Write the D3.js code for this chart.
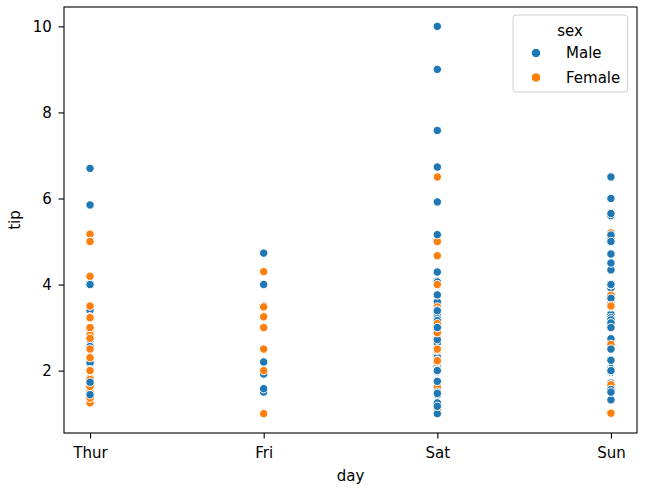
<!DOCTYPE html>
<html>
<head>
<meta charset="utf-8">
<script src="https://cdn.jsdelivr.net/npm/d3@7"></script>
<style>
  body { margin: 0; background: #fff; }
  svg text { font-family: "DejaVu Sans", sans-serif; fill: #000; }
  .axis path, .axis line { stroke: #000; stroke-width: 1.1; }
</style>
</head>
<body>
<script>
// categories
var days = ["Thur", "Fri", "Sat", "Sun"];
var sexes = ["Male", "Female"];
var sexColors = ["#1f77b4", "#ff7f0e"];
var yTicks = [2, 4, 6, 8, 10];

// one entry per diner, in drawing order
var tipValues = [
  1.01,1.66,3.5,3.31,3.61,4.71,2.0,3.12,1.96,3.23,
  1.71,5.0,1.57,3.0,3.02,3.92,1.67,3.71,3.5,3.35,
  4.08,2.75,2.23,7.58,3.18,2.34,2.0,2.0,4.3,3.0,
  1.45,2.5,3.0,2.45,3.27,3.6,2.0,3.07,2.31,5.0,
  2.24,2.54,3.06,1.32,5.6,3.0,5.0,6.0,2.05,3.0,
  2.5,2.6,5.2,1.56,4.34,3.51,3.0,1.5,1.76,6.73,
  3.21,2.0,1.98,3.76,2.64,3.15,2.47,1.0,2.01,2.09,
  1.97,3.0,3.14,5.0,2.2,1.25,3.08,4.0,3.0,2.71,
  3.0,3.4,1.83,5.0,2.03,5.17,2.0,4.0,5.85,3.0,
  3.0,3.5,1.0,4.3,3.25,4.73,4.0,1.5,3.0,1.5,
  2.5,3.0,2.5,3.48,4.08,1.64,4.06,4.29,3.76,4.0,
  3.0,1.0,4.0,2.55,4.0,3.5,5.07,1.5,1.8,2.92,
  2.31,1.68,2.5,2.0,2.52,4.2,1.48,2.0,2.0,2.18,
  1.5,2.83,1.5,2.0,3.25,1.25,2.0,2.0,2.0,2.75,
  3.5,6.7,5.0,5.0,2.3,1.5,1.36,1.63,1.73,2.0,
  2.5,2.0,2.74,2.0,2.0,5.14,5.0,3.75,2.61,2.0,
  3.5,2.5,2.0,2.0,3.0,3.48,2.24,4.5,1.61,2.0,
  10.0,3.16,5.15,3.18,4.0,3.11,2.0,2.0,4.0,3.55,
  3.68,5.65,3.5,6.5,3.0,5.0,3.5,2.0,3.5,4.0,
  1.5,4.19,2.56,2.02,4.0,1.44,2.0,5.0,2.0,2.0,
  4.0,2.01,2.0,2.5,4.0,3.23,3.41,3.0,2.03,2.23,
  2.0,5.16,9.0,2.5,6.5,1.1,3.0,1.5,1.44,3.09,
  2.2,3.48,1.92,3.0,1.58,2.5,2.0,3.0,2.72,2.88,
  2.0,3.0,3.39,1.47,3.0,1.25,1.0,1.17,4.67,5.92,
  2.0,2.0,1.75,3.0
];
// index into days
var dayOf = [
  3,3,3,3,3,3,3,3,3,3,
  3,3,3,3,3,3,3,3,3,2,
  2,2,2,2,2,2,2,2,2,2,
  2,2,2,2,2,2,2,2,2,2,
  2,3,3,3,3,3,3,3,3,3,
  3,3,3,3,3,3,2,2,2,2,
  2,2,2,2,2,2,2,2,2,2,
  2,2,2,2,2,2,2,0,0,0,
  0,0,0,0,0,0,0,0,0,0,
  1,1,1,1,1,1,1,1,1,1,
  1,1,2,2,2,2,2,2,2,2,
  2,2,3,3,3,3,3,0,0,0,
  0,0,0,0,0,0,0,0,0,0,
  0,0,0,0,0,0,0,0,0,0,
  0,0,0,0,0,0,0,0,0,0,
  3,3,3,3,3,3,3,3,3,3,
  3,3,3,3,3,3,3,3,2,2,
  2,2,3,3,3,3,3,3,3,3,
  3,3,3,3,3,3,3,3,3,3,
  3,0,0,0,0,0,0,0,0,0,
  0,0,0,0,0,0,2,2,2,2,
  2,2,2,2,2,2,2,2,2,2,
  1,1,1,1,1,1,1,2,2,2,
  2,2,2,2,2,2,2,2,2,2,
  2,2,2,0
];
// index into sexes
var sexOf = [
  1,0,0,0,1,0,0,0,0,0,
  0,1,0,0,1,0,1,0,1,0,
  0,1,1,0,0,0,0,0,0,1,
  0,0,1,1,0,0,0,1,0,0,
  0,0,0,0,0,0,0,0,0,0,
  0,1,1,0,0,0,0,1,0,0,
  0,0,0,0,0,0,1,1,0,0,
  0,1,1,1,1,0,0,0,0,0,
  0,0,1,0,0,1,0,0,0,0,
  0,0,1,1,1,0,0,0,0,0,
  1,1,1,1,1,0,0,0,0,1,
  0,1,0,0,1,1,0,1,1,1,
  0,1,0,0,1,1,0,1,1,0,
  0,1,1,1,1,1,1,1,0,1,
  1,0,0,1,1,1,1,1,0,0,
  0,0,0,0,0,1,0,1,1,0,
  0,0,1,0,1,0,0,0,1,1,
  0,0,0,0,0,0,0,0,1,0,
  0,0,0,0,0,0,1,0,1,0,
  0,1,0,0,0,0,0,1,1,0,
  0,1,1,1,0,1,0,0,0,1,
  0,0,0,1,1,1,0,0,0,1,
  0,1,0,1,0,1,1,0,0,1,
  0,0,0,0,0,0,0,0,1,0,
  1,0,0,1
];

(function(){
    var width = 650, height = 490;
    var plot = {left: 64, right: 637, top: 7, bottom: 433};
    var fontSize = 15;

    var svg = d3.select("body").append("svg")
        .attr("width", width)
        .attr("height", height);

    var x = d3.scalePoint()
        .domain(days)
        .range([plot.left, plot.right])
        .padding(0.15);

    var y = d3.scaleLinear()
        .domain([0.55, 10.45])
        .range([plot.bottom, plot.top]);

    var points = tipValues.map(function(t, i){
        return {tip: t, day: days[dayOf[i]], sex: sexOf[i]};
    });

    //markers
    svg.append("g").selectAll("circle")
        .data(points)
        .enter()
        .append("circle")
        .attr("cx", function(d){ return x(d.day); })
        .attr("cy", function(d){ return y(d.tip); })
        .attr("r", 4.2)
        .attr("fill", function(d){ return sexColors[d.sex]; })
        .attr("stroke", "#fff")
        .attr("stroke-width", 1);

    //axes
    var xAxis = svg.append("g")
        .attr("class", "axis")
        .attr("transform", "translate(0," + plot.bottom + ")")
        .call(d3.axisBottom(x).tickSize(5.5).tickPadding(6).tickSizeOuter(0));
    xAxis.select(".domain").remove();
    xAxis.selectAll("text").attr("font-size", fontSize).attr("dy", "0.9em");

    var yAxis = svg.append("g")
        .attr("class", "axis")
        .attr("transform", "translate(" + plot.left + ",0)")
        .call(d3.axisLeft(y).tickValues(yTicks).tickSize(5.5).tickPadding(6.6));
    yAxis.select(".domain").remove();
    yAxis.selectAll("text").attr("font-size", fontSize);

    //frame
    svg.append("rect")
        .attr("x", plot.left)
        .attr("y", plot.top)
        .attr("width", plot.right - plot.left)
        .attr("height", plot.bottom - plot.top)
        .attr("fill", "none")
        .attr("stroke", "#000")
        .attr("stroke-width", 1.1);

    //axis labels
    svg.append("text")
        .attr("x", (plot.left + plot.right) / 2)
        .attr("y", 481)
        .attr("text-anchor", "middle")
        .attr("font-size", fontSize)
        .text("day");

    svg.append("text")
        .attr("transform", "translate(19.5," + (plot.top + plot.bottom) / 2 + ") rotate(-90)")
        .attr("text-anchor", "middle")
        .attr("font-size", fontSize)
        .text("tip");

    //legend
    var legend = svg.append("g");
    legend.append("rect")
        .attr("x", 513)
        .attr("y", 15)
        .attr("width", 114.5)
        .attr("height", 77)
        .attr("rx", 3)
        .attr("fill", "#fff")
        .attr("fill-opacity", 0.8)
        .attr("stroke", "#d0d0d0")
        .attr("stroke-width", 1);

    legend.append("text")
        .attr("x", 570)
        .attr("y", 36)
        .attr("text-anchor", "middle")
        .attr("font-size", fontSize)
        .text("sex");

    var items = legend.selectAll(".item")
        .data(sexes)
        .enter()
        .append("g")
        .attr("transform", function(d, i){ return "translate(0," + (53 + i * 24.5) + ")"; });

    items.append("circle")
        .attr("cx", 536)
        .attr("cy", 0)
        .attr("r", 4.7)
        .attr("fill", function(d, i){ return sexColors[i]; })
        .attr("stroke", "#fff")
        .attr("stroke-width", 1);

    items.append("text")
        .attr("x", 566)
        .attr("y", 0)
        .attr("dy", "0.36em")
        .attr("font-size", fontSize)
        .text(function(d){ return d; });
})();
</script>
</body>
</html>
